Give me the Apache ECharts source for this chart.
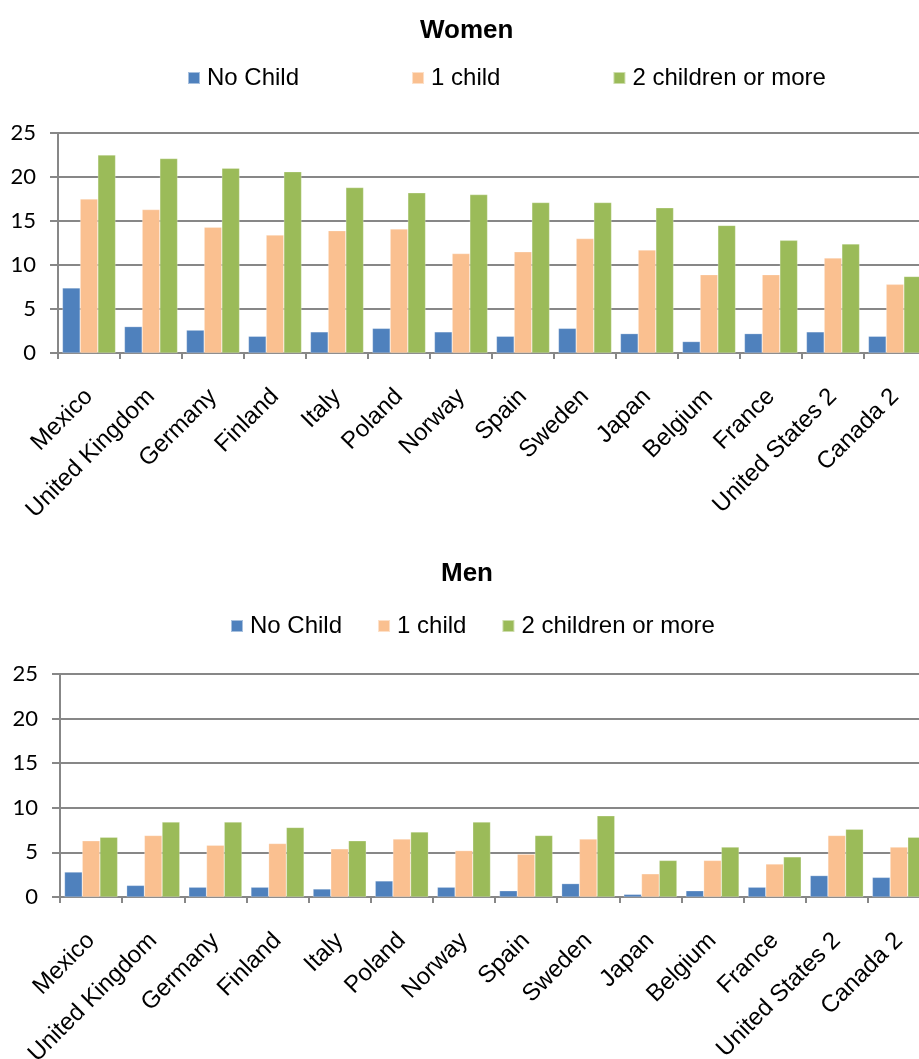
<!DOCTYPE html>
<html lang="en">
<head>
    <meta charset="UTF-8">
    <title>Women / Men</title>
    <style>
        html, body { margin: 0; padding: 0; background: #fff; }
        #main { width: 919px; height: 1059px; }
    </style>
</head>
<body>
<div id="main"></div>
<script src="https://cdn.jsdelivr.net/npm/echarts@6/dist/echarts.min.js"></script>
<script>
    // categories and values
    var countries = ['Mexico', 'United Kingdom', 'Germany', 'Finland', 'Italy', 'Poland', 'Norway',
        'Spain', 'Sweden', 'Japan', 'Belgium', 'France', 'United States 2', 'Canada 2'];
    var seriesNames = ['No Child', '1 child', '2 children or more'];
    var colors = ['#4F81BD', '#FAC090', '#9BBB59'];
    var yTicks = [0, 5, 10, 15, 20, 25];

    var womenNoChild = [7.4, 3.0, 2.6, 1.9, 2.4, 2.8, 2.4, 1.9, 2.8, 2.2, 1.3, 2.2, 2.4, 1.9];
    var womenOneChild = [17.5, 16.3, 14.3, 13.4, 13.9, 14.1, 11.3, 11.5, 13.0, 11.7, 8.9, 8.9, 10.8, 7.8];
    var womenTwoMore = [22.5, 22.1, 21.0, 20.6, 18.8, 18.2, 18.0, 17.1, 17.1, 16.5, 14.5, 12.8, 12.4, 8.7];

    var menNoChild = [2.8, 1.3, 1.1, 1.1, 0.9, 1.8, 1.1, 0.7, 1.5, 0.3, 0.7, 1.1, 2.4, 2.2];
    var menOneChild = [6.3, 6.9, 5.8, 6.0, 5.4, 6.5, 5.2, 4.8, 6.5, 2.6, 4.1, 3.7, 6.9, 5.6];
    var menTwoMore = [6.7, 8.4, 8.4, 7.8, 6.3, 7.3, 8.4, 6.9, 9.1, 4.1, 5.6, 4.5, 7.6, 6.7];

    var chart = echarts.init(document.getElementById('main'));

    var gridColor = '#878787';
    var labelFont = 'Liberation Sans, Arial, sans-serif';

    function xAxisFor(idx) {
        return {
            type: 'category',
            gridIndex: idx,
            data: countries,
            axisLine: {lineStyle: {color: gridColor, width: 2}},
            axisTick: {show: true, length: 6, lineStyle: {color: gridColor, width: 2}},
            axisLabel: {
                interval: 0, rotate: 45, margin: 40,
                color: '#000', fontSize: 24, fontFamily: labelFont
            }
        };
    }

    function yAxisFor(idx) {
        return {
            type: 'value',
            gridIndex: idx,
            min: 0, max: yTicks[yTicks.length - 1], interval: 5,
            axisLine: {show: true, lineStyle: {color: gridColor, width: 2}},
            axisTick: {show: true, length: 8, lineStyle: {color: gridColor, width: 2}},
            splitLine: {lineStyle: {color: gridColor, width: 2}},
            axisLabel: {color: '#000', fontSize: 22, margin: 22, fontFamily: 'Lato, Open Sans, sans-serif'}
        };
    }

    function barsFor(idx, data) {
        return data.map(function (vals, i) {
            return {
                name: seriesNames[i],
                type: 'bar',
                xAxisIndex: idx,
                yAxisIndex: idx,
                data: vals,
                barWidth: 17.7,
                barGap: '0%',
                itemStyle: {color: colors[i], borderColor: 'rgba(255,255,255,0.5)', borderWidth: 0.5},
                animation: false
            };
        });
    }

    var legendText = {color: '#000', fontSize: 24, fontFamily: labelFont, padding: [0, 0, 0, 2]};
    var titleText = {fontSize: 26, fontWeight: 'bold', color: '#000', fontFamily: labelFont};

    chart.setOption({
        animation: false,
        color: colors,
        title: [
            {text: 'Women', left: 420, top: 18, padding: 0, textStyle: titleText},
            {text: 'Men', left: 441, top: 561, padding: 0, textStyle: titleText}
        ],
        legend: [
            {data: seriesNames, left: 187, top: 66, padding: 0, itemWidth: 12, itemHeight: 12, itemGap: 112, icon: 'rect', textStyle: legendText},
            {data: seriesNames, left: 230, top: 614, padding: 0, itemWidth: 12, itemHeight: 12, itemGap: 35, icon: 'rect', textStyle: legendText}
        ],
        grid: [
            {left: 58, right: -7, top: 133, bottom: 706, outerBoundsMode: 'none', containLabel: false},
            {left: 60, right: -11, top: 674, bottom: 162, outerBoundsMode: 'none', containLabel: false}
        ],
        xAxis: [xAxisFor(0), xAxisFor(1)],
        yAxis: [yAxisFor(0), yAxisFor(1)],
        series: barsFor(0, [womenNoChild, womenOneChild, womenTwoMore])
            .concat(barsFor(1, [menNoChild, menOneChild, menTwoMore]))
    });
</script>
</body>
</html>
